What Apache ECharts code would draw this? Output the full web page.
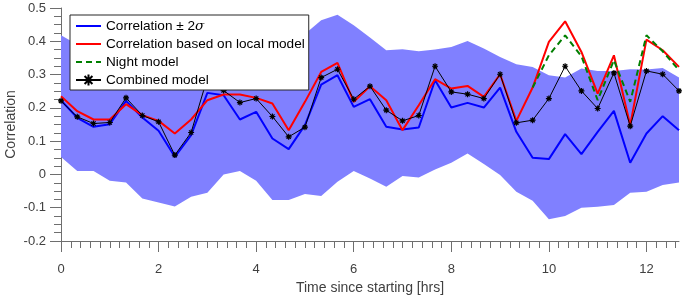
<!DOCTYPE html>
<html>
<head>
<meta charset="utf-8">
<script src="https://cdn.jsdelivr.net/npm/echarts@6/dist/echarts.min.js"></script>
<style>
  html, body { margin: 0; padding: 0; background: #fff; }
  #chart { width: 686px; height: 298px; }
</style>
</head>
<body>
<div id="chart"></div>
<script>
// time of each estimate [hrs], one every 20 min
var timeHrs = [0, 0.333, 0.667, 1, 1.333, 1.667, 2, 2.333, 2.667, 3, 3.333, 3.667, 4,
  4.333, 4.667, 5, 5.333, 5.667, 6, 6.333, 6.667, 7, 7.333, 7.667, 8, 8.333, 8.667,
  9, 9.333, 9.667, 10, 10.333, 10.667, 11, 11.333, 11.667, 12, 12.333, 12.667];

var correlation = [0.223, 0.170, 0.143, 0.151, 0.221, 0.171, 0.131, 0.053, 0.118, 0.245,
  0.238, 0.165, 0.188, 0.108, 0.076, 0.148, 0.270, 0.298, 0.203, 0.226, 0.143, 0.135,
  0.141, 0.283, 0.201, 0.215, 0.201, 0.261, 0.128, 0.050, 0.046, 0.121, 0.061, 0.128,
  0.191, 0.035, 0.123, 0.175, 0.133];

var bandUpper = [0.418, 0.390, 0.370, 0.350, 0.340, 0.330, 0.320, 0.310, 0.330, 0.360,
  0.380, 0.390, 0.400, 0.410, 0.415, 0.422, 0.463, 0.480, 0.448, 0.411, 0.373, 0.376,
  0.370, 0.375, 0.383, 0.401, 0.378, 0.353, 0.331, 0.323, 0.298, 0.291, 0.318, 0.311,
  0.311, 0.316, 0.315, 0.320, 0.291];

var bandLower = [0.052, 0.010, 0.010, -0.019, -0.024, -0.072, -0.084, -0.096, -0.067, -0.055,
  0.000, 0.010, -0.019, -0.077, -0.077, -0.059, -0.065, -0.022, 0.010, -0.012, -0.037, -0.005,
  -0.009, 0.015, 0.035, 0.063, 0.031, -0.002, -0.052, -0.079, -0.135, -0.125, -0.100, -0.097,
  -0.092, -0.055, -0.052, -0.032, -0.024];

var localModel = [0.235, 0.190, 0.165, 0.165, 0.211, 0.178, 0.161, 0.123, 0.165, 0.223,
  0.240, 0.240, 0.230, 0.213, 0.133, 0.218, 0.308, 0.335, 0.218, 0.265, 0.223, 0.133,
  0.208, 0.286, 0.258, 0.266, 0.233, 0.301, 0.161, 0.261, 0.398, 0.460, 0.368, 0.243,
  0.358, 0.148, 0.405, 0.373, 0.323];

// night model only exists after ~9.7 hrs
var nightModel = [null, null, null, null, null, null, null, null, null, null,
  null, null, null, null, null, null, null, null, null, null, null, null,
  null, null, null, null, null, null, null, 0.261, 0.358, 0.418, 0.355, 0.223,
  0.343, 0.218, 0.418, 0.370, 0.313];

var combinedModel = [0.221, 0.173, 0.153, 0.156, 0.230, 0.177, 0.158, 0.058, 0.126, 0.290,
  0.252, 0.216, 0.228, 0.174, 0.113, 0.142, 0.291, 0.316, 0.226, 0.265, 0.193, 0.161,
  0.177, 0.325, 0.248, 0.241, 0.228, 0.301, 0.155, 0.163, 0.228, 0.325, 0.251, 0.198,
  0.305, 0.145, 0.311, 0.301, 0.251];

var xMajorTicks = [0, 2, 4, 6, 8, 10, 12];
var yMajorTicks = [-0.2, -0.1, 0, 0.1, 0.2, 0.3, 0.4, 0.5];
var xMax = 12.667;

function pairs(vals) {
  var out = [];
  for (var i = 0; i < timeHrs.length; i++) {
    if (vals[i] !== null) out.push([timeHrs[i], vals[i]]);
  }
  return out;
}

// minor ticks every 0.2 hrs on x and every 0.025 on y, skipping the major ones
var xMinorTicks = [];
for (var k = 1; k * 0.2 < xMax; k++) {
  if (k % 10 !== 0) xMinorTicks.push(Math.round(k * 2) / 10);
}
var yMinorTicks = [];
for (var m = -8; m <= 20; m++) {
  if (m % 4 !== 0) yMinorTicks.push(m * 0.025);
}

var axisColor = '#6e6e6e';
var labelColor = '#404040';
var font = 'Liberation Sans, Arial, Helvetica, sans-serif';

// whole +-2 sigma band as one polygon, drawn once
function renderBand(params, api) {
  if (params.dataIndex !== 0) return null;
  var pts = [];
  for (var i = 0; i < timeHrs.length; i++) pts.push(api.coord([timeHrs[i], bandUpper[i]]));
  for (var j = timeHrs.length - 1; j >= 0; j--) pts.push(api.coord([timeHrs[j], bandLower[j]]));
  return {
    type: 'polygon',
    shape: { points: pts },
    style: { fill: '#8080ff', stroke: null }
  };
}

var chart = echarts.init(document.getElementById('chart'), null, { renderer: 'canvas' });

var option = {
  animation: false,
  backgroundColor: '#fff',
  grid: { left: 61, right: 7, top: 8, bottom: 57, containLabel: false, outerBoundsMode: 'none' },
  legend: {
    orient: 'vertical',
    left: 70,
    top: 15,
    z: 20,
    padding: [4, 4, 3, 5],
    itemGap: 4,
    itemWidth: 25,
    itemHeight: 14,
    backgroundColor: '#fff',
    borderColor: '#262626',
    borderWidth: 1,
    textStyle: {
      fontFamily: font, fontSize: 13.6, color: '#000',
      rich: {
        s: { fontFamily: font, fontSize: 13.6, color: '#000' },
        i: { fontFamily: 'DejaVu Serif, serif', fontStyle: 'italic', fontSize: 13.6, color: '#000' }
      }
    },
    formatter: function (name) {
      if (name === 'Correlation ± 2σ') return '{s|Correlation ± 2}{i|σ}';
      return name;
    },
    data: [
      { name: 'Correlation ± 2σ', itemStyle: { opacity: 0 } },
      { name: 'Correlation based on local model', itemStyle: { opacity: 0 } },
      { name: 'Night model', itemStyle: { opacity: 0 } },
      { name: 'Combined model' }
    ]
  },
  xAxis: [{
    type: 'value',
    min: 0,
    max: xMax,
    name: 'Time since starting [hrs]',
    nameLocation: 'middle',
    nameGap: 38,
    nameTextStyle: { fontFamily: font, fontSize: 14, color: labelColor },
    axisLine: { show: true, onZero: false, lineStyle: { color: axisColor, width: 1 } },
    axisTick: { show: true, customValues: xMajorTicks, length: 11, lineStyle: { color: axisColor } },
    axisLabel: { customValues: xMajorTicks, margin: 22, fontFamily: font, fontSize: 13, color: labelColor },
    splitLine: { show: false }
  }, {
    type: 'value',
    position: 'bottom',
    min: 0,
    max: xMax,
    axisLine: { show: false, onZero: false },
    axisTick: { show: true, customValues: xMinorTicks, length: 7, lineStyle: { color: axisColor } },
    axisLabel: { show: false },
    splitLine: { show: false }
  }],
  yAxis: [{
    type: 'value',
    min: -0.2,
    max: 0.5,
    interval: 0.1,
    name: 'Correlation',
    nameLocation: 'middle',
    nameGap: 43,
    nameMoveOverlap: false,
    nameTextStyle: { fontFamily: font, fontSize: 14, color: labelColor },
    axisLine: { show: true, onZero: false, lineStyle: { color: axisColor, width: 1 } },
    axisTick: { show: true, customValues: yMajorTicks, length: 11, lineStyle: { color: axisColor } },
    axisLabel: { margin: 15, fontFamily: font, fontSize: 13, color: labelColor },
    splitLine: { show: false }
  }, {
    type: 'value',
    position: 'left',
    min: -0.2,
    max: 0.5,
    axisLine: { show: false, onZero: false },
    axisTick: { show: true, customValues: yMinorTicks, length: 7, lineStyle: { color: axisColor } },
    axisLabel: { show: false },
    splitLine: { show: false }
  }],
  series: [
    {
      type: 'custom',
      renderItem: renderBand,
      data: pairs(bandLower),
      encode: { x: 0, y: 1 },
      silent: true,
      clip: true,
      z: 1
    },
    {
      name: 'Correlation ± 2σ',
      type: 'line',
      data: pairs(correlation),
      symbol: 'none',
      color: '#0000ff',
      lineStyle: { color: '#0000ff', width: 2 },
      z: 2
    },
    {
      name: 'Correlation based on local model',
      type: 'line',
      data: pairs(localModel),
      symbol: 'none',
      color: '#ff0000',
      lineStyle: { color: '#ff0000', width: 2 },
      z: 3
    },
    {
      name: 'Night model',
      type: 'line',
      data: pairs(nightModel),
      symbol: 'none',
      color: '#007f00',
      lineStyle: { color: '#007f00', width: 2, type: [6, 4] },
      z: 4
    },
    {
      name: 'Combined model',
      type: 'line',
      data: pairs(combinedModel),
      symbol: 'path://M5,0L5,10M0,5L10,5M1.5,1.5L8.5,8.5M8.5,1.5L1.5,8.5',
      symbolSize: 6,
      showAllSymbol: true,
      color: '#000',
      itemStyle: { color: '#000', borderColor: '#000', borderWidth: 1.2 },
      lineStyle: { color: '#000', width: 1 },
      z: 5
    }
  ]
};

chart.setOption(option);
</script>
</body>
</html>
